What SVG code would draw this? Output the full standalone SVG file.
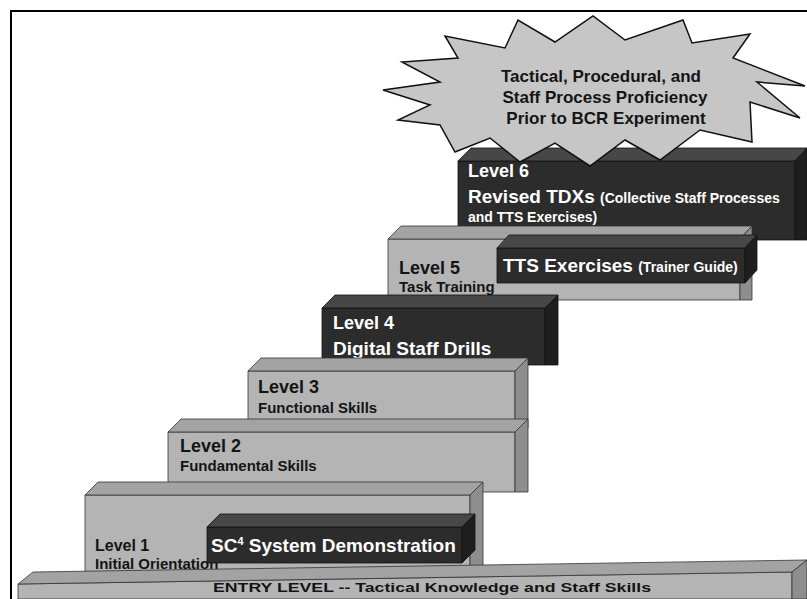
<svg xmlns="http://www.w3.org/2000/svg" width="807" height="599" viewBox="0 0 807 599">
  <style>
    .lr { fill: #b4b4b4; stroke: #333; stroke-width: 0.8; }
    .lt { fill: #a3a3a3; stroke: #333; stroke-width: 0.8; }
    .ls { fill: #8e8e8e; stroke: #333; stroke-width: 0.8; }
    .dr { fill: #2c2c2c; stroke: #111; stroke-width: 0.8; }
    .dt { fill: #474747; stroke: #111; stroke-width: 0.8; }
    .ds { fill: #1e1e1e; stroke: #111; stroke-width: 0.8; }
    text { font-family: "Liberation Sans", Arial, Helvetica, sans-serif; font-weight: bold; }
    .k { fill: #141414; }
    .w { fill: #ffffff; }
    .big { font-size: 19px; }
    .lvl { font-size: 18px; }
    .sub { font-size: 15px; }
    .sm { font-size: 14px; }
  </style>

  <!-- outer frame (top and left edges) -->
  <path d="M11,599 V11 H807" fill="none" stroke="#000" stroke-width="2"/>

  <!-- Level 6 -->
  <g id="level6">
    <polygon class="dr" points="458,161 795,161 795,240 458,240"/>
    <polygon class="dt" points="458,161 471,148 807,148 795,161"/>
    <polygon class="ds" points="795,161 807,148 807,240 795,240"/>
    <text class="w lvl" x="468" y="177">Level 6</text>
    <text class="w" x="468" y="203"><tspan class="big">Revised TDXs </tspan><tspan class="sm">(Collective Staff Processes</tspan></text>
    <text class="w sm" x="468" y="222">and TTS Exercises)</text>
  </g>

  <!-- goal starburst -->
  <g id="goal">
    <polygon points="383,90 440,82 402,62 458,58 445,36 505,48 518,20 555,42 593,16 625,40 683,20 692,43 750,34 733,58 805,86 757,82 800,118 750,102 752,142 700,130 660,160 625,140 590,166 555,143 520,162 490,138 455,152 440,125 398,120 430,105" fill="#c6c6c6" stroke="#111" stroke-width="1.5" stroke-linejoin="miter"/>
    <text class="k" font-size="17" text-anchor="middle" x="601" y="82">Tactical, Procedural, and</text>
    <text class="k" font-size="17" text-anchor="middle" x="605" y="103">Staff Process Proficiency</text>
    <text class="k" font-size="17" text-anchor="middle" x="606" y="124">Prior to BCR Experiment</text>
  </g>

  <!-- Level 5 -->
  <g id="level5">
    <polygon class="lr" points="388,239 740,239 740,300 388,300"/>
    <polygon class="lt" points="388,239 401,226 752,226 740,239"/>
    <polygon class="ls" points="740,239 752,226 752,300 740,300"/>
    <text class="k lvl" x="399" y="274">Level 5</text>
    <text class="k sub" x="399" y="292">Task Training</text>
  </g>

  <!-- TTS exercises box -->
  <g id="tts">
    <polygon class="dr" points="497,248 745,248 745,283 497,283"/>
    <polygon class="dt" points="497,248 509,235 757,235 745,248"/>
    <polygon class="ds" points="745,248 757,235 757,270 745,283"/>
    <text class="w" x="503" y="272"><tspan class="big">TTS Exercises </tspan><tspan class="sm">(Trainer Guide)</tspan></text>
  </g>

  <!-- Level 4 -->
  <g id="level4">
    <polygon class="dr" points="322,308 545,308 545,365 322,365"/>
    <polygon class="dt" points="322,308 335,295 558,295 545,308"/>
    <polygon class="ds" points="545,308 558,295 558,365 545,365"/>
    <text class="w lvl" x="333" y="329">Level 4</text>
    <text class="w big" x="333" y="355">Digital Staff Drills</text>
  </g>

  <!-- Level 3 -->
  <g id="level3">
    <polygon class="lr" points="248,371 515,371 515,428 248,428"/>
    <polygon class="lt" points="248,371 261,358 528,358 515,371"/>
    <polygon class="ls" points="515,371 528,358 528,428 515,428"/>
    <text class="k lvl" x="258" y="393">Level 3</text>
    <text class="k sub" x="258" y="413">Functional Skills</text>
  </g>

  <!-- Level 2 -->
  <g id="level2">
    <polygon class="lr" points="168,432 515,432 515,492 168,492"/>
    <polygon class="lt" points="168,432 181,419 528,419 515,432"/>
    <polygon class="ls" points="515,432 528,419 528,492 515,492"/>
    <text class="k lvl" x="180" y="452">Level 2</text>
    <text class="k sub" x="180" y="471">Fundamental Skills</text>
  </g>

  <!-- Level 1 -->
  <g id="level1">
    <polygon class="lr" points="85,495 470,495 470,585 85,585"/>
    <polygon class="lt" points="85,495 98,482 483,482 470,495"/>
    <polygon class="ls" points="470,495 483,482 483,575 470,585"/>
    <text class="k" font-size="16" x="95" y="551">Level 1</text>
    <text class="k sub" x="95" y="569">Initial Orientation</text>
  </g>

  <!-- SC4 demonstration box -->
  <g id="sc4">
    <polygon class="dr" points="207,527 462,527 462,563 207,563"/>
    <polygon class="dt" points="207,527 220,514 475,514 462,527"/>
    <polygon class="ds" points="462,527 475,514 475,550 462,563"/>
    <text class="w big" x="211" y="552">SC<tspan font-size="11" dy="-7">4</tspan><tspan dy="7"> System Demonstration</tspan></text>
  </g>

  <!-- Entry level base slab -->
  <g id="entry">
    <polygon class="lr" points="18,584 792,572 792,599 18,599"/>
    <polygon class="lt" points="18,584 33,572 807,560 792,572"/>
    <polygon class="ls" points="792,572 807,560 807,599 792,599"/>
    <text class="k" font-size="13" x="213" y="592" textLength="438" lengthAdjust="spacingAndGlyphs">ENTRY LEVEL -- Tactical Knowledge and Staff Skills</text>
  </g>

  <!-- no connectors in this figure -->
  <g id="connectors"/>
</svg>
